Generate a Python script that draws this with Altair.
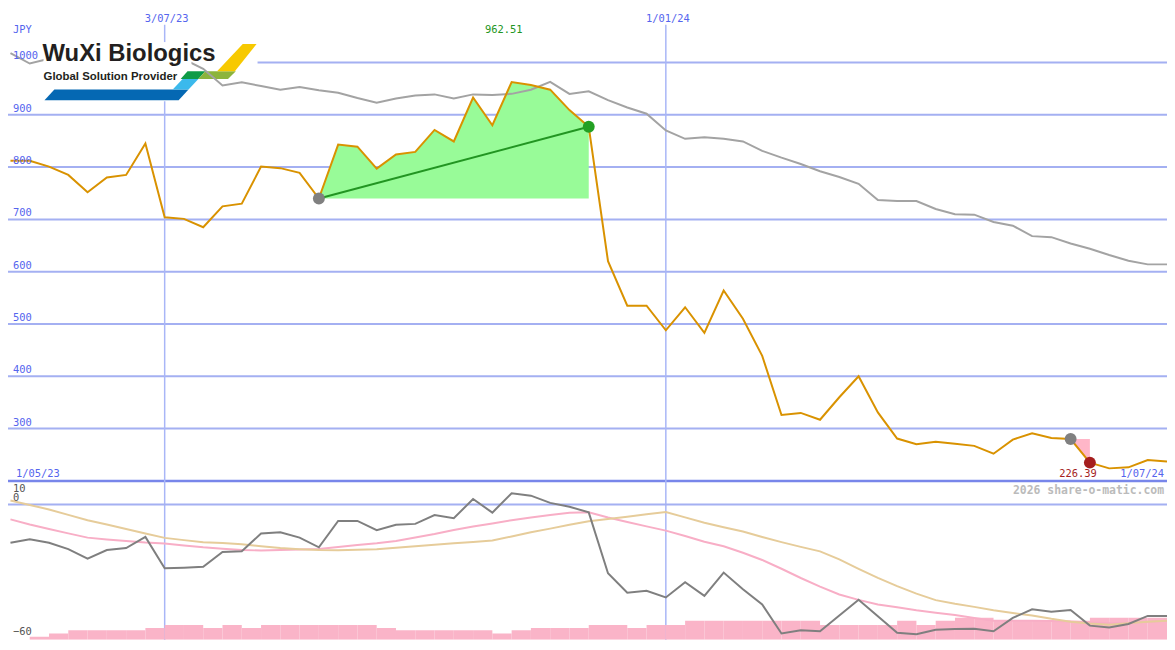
import altair as alt
import pandas as pd

# ---------------- layout helpers (reference is 1175x650) ----------------
W, H = 1167, 634
SX, SY = W / 1175, H / 650


def px(v):
    return round(v * SX, 2)


def py(v):
    return round(v * SY, 2)


# ---------------- data ----------------
week_starts = pd.date_range("2023-05-08", periods=61, freq="7D")
dates = [d.strftime("%Y-%m-%dT00:00:00Z") for d in week_starts]
week_ends = [(d + pd.Timedelta(days=7)).strftime("%Y-%m-%dT00:00:00Z") for d in week_starts]

price = [812, 812, 801, 785, 752, 780, 785, 845, 704, 701,
         685, 725, 730, 801, 798, 789, 740, 843, 839, 797,
         824, 829, 871, 849, 933, 880, 962.5, 957, 948, 909,
         877, 620, 535, 535, 488, 532, 483, 564, 510, 439,
         326, 330, 317, 360, 400, 331, 281, 270, 275, 271,
         267, 252, 279, 291, 282, 280, 235, 224, 226, 240,
         237]

peer = [1018, 998, 1007, 1004, 1006, 1008, 1005, 1005, 1004, 1006,
        988, 956, 962, 955, 948, 953, 947, 942, 932, 923,
        931, 937, 939, 931, 939, 938, 940, 948, 963, 940,
        945, 928, 914, 902, 870, 854, 857, 854, 849, 831,
        818, 806, 792, 781, 768, 737, 735, 735, 720, 710,
        709, 695, 688, 668, 666, 654, 644, 632, 621, 614,
        614]

momentum = [-17, -15.4, -17, -19.8, -24, -20.2, -19.3, -14.4, -28.3, -28,
            -27.6, -21.1, -20.7, -12.9, -12.3, -14.7, -19, -7.3, -7.3, -11.4,
            -9, -8.6, -4.7, -6.1, 2.4, -3.6, 5, 3.9, 0.7, -1,
            -3.5, -30.5, -39.1, -38.3, -41.2, -34.5, -40.5, -30.2, -37.6, -44.3,
            -57.2, -55.8, -56.2, -49.2, -42.2, -49.5, -56.9, -57.5, -55.5, -55.2,
            -55.1, -56.2, -50.3, -46.5, -47.6, -46.8, -53.7, -54.5, -53, -49.4,
            -49.4]

ma_fast = [-6.6, -8.9, -10.9, -12.8, -14.7, -15.5, -16.2, -16.9, -17.3, -18.2,
           -19, -19.6, -20.2, -20.4, -20.2, -20, -19.7, -18.9, -18, -17.2,
           -16.2, -14.6, -13.1, -11.3, -9.8, -8.4, -7, -5.8, -4.7, -3.7,
           -3.5, -5.8, -7.8, -9.7, -11.6, -14, -16.5, -18.5, -21.4, -24.6,
           -28.5, -32.6, -36.4, -39.9, -42.3, -44.3, -45.6, -46.9, -48, -49,
           -50.3, -51.5, -51.5, -51.5, -51.7, -51.9, -52.3, -52.6, -52.4, -52,
           -51.5]

ma_slow = [1.8, -0.2, -2.2, -4.6, -7, -8.9, -10.9, -12.9, -14.8, -15.8,
           -16.7, -17.1, -17.6, -18.5, -19.3, -19.8, -20.2, -20.3, -20.1, -19.8,
           -19.2, -18.5, -17.9, -17.2, -16.6, -16, -14.2, -12.3, -10.7, -9,
           -7.4, -6.4, -5.4, -4.3, -3.3, -5.7, -8.1, -10.1, -12, -14.4,
           -16.7, -18.8, -20.8, -24.3, -28.5, -32.5, -36.2, -39.5, -42.4, -44,
           -45.4, -46.9, -48.1, -49.2, -50.7, -52, -52.8, -53.3, -52.6, -52,
           -51.5]

bar_top = [-60, -58.6, -57.2, -55.8, -55.8, -55.8, -55.8, -54.8, -53.4, -53.4,
           -54.8, -53.4, -54.8, -53.4, -53.4, -53.4, -53.4, -53.4, -53.4, -54.8,
           -55.8, -55.8, -55.8, -55.8, -55.8, -57.2, -55.8, -54.8, -54.8, -54.8,
           -53.4, -53.4, -54.8, -53.4, -53.4, -51.5, -51.5, -51.5, -51.5, -51.5,
           -51.5, -51.5, -53.4, -53.4, -53.4, -53.4, -51.5, -53.4, -51.5, -50.2,
           -50.2, -51.5, -51.5, -51.5, -51.5, -51.5, -50.2, -50.2, -50.2, -50.2,
           -50.2]

price_ticks = [300, 400, 500, 600, 700, 800, 900, 1000]
price_floor = 200
osc_top, osc_zero, osc_floor = 10, 0, -60

marker_dates = ["2023-07-03T00:00:00Z", "2024-01-01T00:00:00Z"]
marker_labels = ["3/07/23", "1/01/24"]
edge_labels = ["1/05/23", "1/07/24"]
currency = "JPY"
credit = "2026 share-o-matic.com"
logo_title = "WuXi Biologics"
logo_sub = "Global Solution Provider"

gain_from, gain_to = 16, 30
loss_from, loss_to = 55, 56
gain_peak_label = "962.51"
loss_label = "226.39"

# ---------------- colours ----------------
GRID = "#a4b0f2"
GRID_DARK = "#7886ea"
VLINE = "#a9b6f7"
LABEL_BLUE = "#5565ee"
MONO = "DejaVu Sans Mono"

# ---------------- scales ----------------
x_dom = [int(pd.Timestamp("2023-05-07 02:30", tz="UTC").value // 10**6),
         int(pd.Timestamp("2024-07-01 00:00", tz="UTC").value // 10**6)]
xs = alt.Scale(domain=x_dom)
ys = alt.Scale(domain=[200, 1100], range=[474, 0], nice=False, zero=False)
ls = alt.Scale(domain=[-60, 10], range=[634, 475], nice=False, zero=False)
X = alt.X("date:T", scale=xs, axis=None)


def YP(field):
    return alt.Y(field, scale=ys, axis=None)


def YL(field):
    return alt.Y(field, scale=ls, axis=None)


main_df = pd.DataFrame({"date": dates, "price": price, "peer": peer})
gain_df = pd.DataFrame({"date": dates[gain_from:gain_to + 1],
                        "price": price[gain_from:gain_to + 1],
                        "base": price[gain_from]})
loss_df = pd.DataFrame({"date": dates[loss_from:loss_to + 1],
                        "price": price[loss_from:loss_to + 1],
                        "base": price[loss_from]})
trend_df = pd.DataFrame({"date": [dates[gain_from], dates[gain_to]],
                         "price": [price[gain_from], price[gain_to]]})
dots_df = pd.DataFrame({
    "date": [dates[gain_from], dates[gain_to], dates[loss_from], dates[loss_to]],
    "price": [price[gain_from], price[gain_to], price[loss_from], price[loss_to]],
    "col": ["#808080", "#23a023", "#808080", "#a51e1e"],
})
peak_i = gain_from + max(range(gain_to - gain_from + 1), key=lambda i: price[gain_from + i])

# ---------------- main panel layers ----------------
grid = alt.Chart(pd.DataFrame({"v": price_ticks})).mark_rule(
    color=GRID, strokeWidth=2).encode(y=YP("v:Q"))
floor_rule = alt.Chart(pd.DataFrame({"v": [price_floor]})).mark_rule(
    color=GRID_DARK, strokeWidth=2.5).encode(y=YP("v:Q"))
vrules = alt.Chart(pd.DataFrame({"date": marker_dates, "label": marker_labels})).mark_rule(
    color=VLINE, strokeWidth=1.5).encode(x=X, y=alt.value(py(15)), y2=alt.value(H))

logo_bg = alt.Chart(pd.DataFrame({"a": [0]})).mark_rect(color="white").encode(
    x=alt.value(0), x2=alt.value(px(253)), y=alt.value(py(33)), y2=alt.value(py(94)))


def poly(points):
    return "M" + " L".join(f"{px(a)},{py(b)}" for a, b in points) + " Z"


logo_parts = [
    ("#0568b3", [(37, 93), (47, 82), (183, 82), (173, 93)]),
    ("#3bb9ec", [(167, 82), (183, 82), (193, 71), (177, 71)]),
    ("#0e9b47", [(175, 71), (182, 63), (200, 63), (193, 71)]),
    ("#8cb43c", [(193, 71), (200, 63), (231, 63), (223, 71)]),
    ("#f7c900", [(212, 63), (238, 35), (252, 35), (230, 63)]),
]
logo_shapes = [
    alt.Chart(pd.DataFrame({"a": [0]})).mark_point(
        shape=poly(pts), size=4, filled=True, color=c, opacity=1, strokeWidth=0
    ).encode(x=alt.value(0), y=alt.value(0))
    for c, pts in logo_parts
]

gain_area = alt.Chart(gain_df).mark_area(color="#98fb98", opacity=1).encode(
    x=X, y=YP("price:Q"), y2="base:Q")
loss_area = alt.Chart(loss_df).mark_area(color="#ffb6c8", opacity=1).encode(
    x=X, y=YP("price:Q"), y2="base:Q")

peer_line = alt.Chart(main_df).mark_line(color="#a3a3a3", strokeWidth=2).encode(
    x=X, y=YP("peer:Q"))
text_bg = alt.Chart(pd.DataFrame({"a": [0]})).mark_rect(color="white").encode(
    x=alt.value(px(36)), x2=alt.value(px(186)), y=alt.value(py(33)), y2=alt.value(py(58)))
price_line = alt.Chart(main_df).mark_line(color="#d99200", strokeWidth=2).encode(
    x=X, y=YP("price:Q"))
trend_line = alt.Chart(trend_df).mark_line(color="#229522", strokeWidth=2).encode(
    x=X, y=YP("price:Q"))
dots = alt.Chart(dots_df).mark_point(filled=True, size=144, opacity=1, strokeWidth=0).encode(
    x=X, y=YP("price:Q"), color=alt.Color("col:N", scale=None))

logo_title_t = alt.Chart(pd.DataFrame({"t": [logo_title]})).mark_text(
    align="left", baseline="alphabetic", font="Liberation Sans", fontWeight="bold",
    fontSize=24, color="#231f20").encode(x=alt.value(px(35)), y=alt.value(py(52)), text="t:N")
logo_sub_t = alt.Chart(pd.DataFrame({"t": [logo_sub]})).mark_text(
    align="left", baseline="alphabetic", font="Liberation Sans", fontWeight="bold",
    fontSize=11.5, color="#231f20").encode(x=alt.value(px(36)), y=alt.value(py(72)), text="t:N")

tick_labels = alt.Chart(pd.DataFrame({"v": price_ticks})).mark_text(
    align="left", baseline="bottom", dy=-1, font=MONO, fontSize=10.5, color=LABEL_BLUE
).encode(x=alt.value(px(5)), y=YP("v:Q"), text="v:Q")
cur_label = alt.Chart(pd.DataFrame({"t": [currency]})).mark_text(
    align="left", baseline="middle", font=MONO, fontSize=10.5, color=LABEL_BLUE
).encode(x=alt.value(px(5)), y=alt.value(py(20)), text="t:N")
top_dates = alt.Chart(pd.DataFrame({"date": marker_dates, "label": marker_labels})).mark_text(
    align="center", baseline="middle", dx=2, font=MONO, fontSize=10.5, color=LABEL_BLUE
).encode(x=X, y=alt.value(py(9)), text="label:N")
left_date = alt.Chart(pd.DataFrame({"t": [edge_labels[0]]})).mark_text(
    align="left", baseline="middle", font=MONO, fontSize=10.5, color=LABEL_BLUE
).encode(x=alt.value(px(8)), y=alt.value(py(479)), text="t:N")
right_date = alt.Chart(pd.DataFrame({"t": [edge_labels[1]]})).mark_text(
    align="right", baseline="middle", font=MONO, fontSize=10.5, color=LABEL_BLUE
).encode(x=alt.value(px(1172)), y=alt.value(py(479)), text="t:N")
peak_text = alt.Chart(pd.DataFrame({"date": [dates[peak_i]], "t": [gain_peak_label]})).mark_text(
    align="center", baseline="middle", dx=-8, font=MONO, fontSize=10.5, color="#229522"
).encode(x=X, y=alt.value(py(21)), text="t:N")
loss_text = alt.Chart(pd.DataFrame({"date": [dates[loss_to]], "t": [loss_label]})).mark_text(
    align="center", baseline="middle", dx=-12, font=MONO, fontSize=10.5, color="#a51e1e"
).encode(x=X, y=alt.value(py(479)), text="t:N")

main = alt.layer(grid, floor_rule, vrules, logo_bg, *logo_shapes, gain_area, loss_area,
                 peer_line, text_bg, price_line, trend_line, dots, logo_title_t, logo_sub_t,
                 tick_labels, cur_label, top_dates, left_date, right_date, peak_text, loss_text)

# ---------------- lower panel layers ----------------
low_df = pd.DataFrame({"date": dates, "end": week_ends, "mom": momentum,
                       "fast": ma_fast, "slow": ma_slow, "bar": bar_top,
                       "floor": osc_floor})

zero_rule = alt.Chart(pd.DataFrame({"v": [osc_zero]})).mark_rule(
    color=GRID, strokeWidth=2).encode(y=YL("v:Q"))
bars = alt.Chart(low_df).mark_rect(color="#fab4c8", clip=True).encode(
    x=X, x2="end:T", y=YL("bar:Q"), y2="floor:Q")
fast_line = alt.Chart(low_df).mark_line(color="#f8aec6", strokeWidth=2).encode(
    x=X, y=YL("fast:Q"))
slow_line = alt.Chart(low_df).mark_line(color="#e6cc9a", strokeWidth=2).encode(
    x=X, y=YL("slow:Q"))
mom_line = alt.Chart(low_df).mark_line(color="#7f7f7f", strokeWidth=2).encode(
    x=X, y=YL("mom:Q"))

top_lab = alt.Chart(pd.DataFrame({"v": [osc_top]})).mark_text(
    align="left", baseline="top", dy=2, font=MONO, fontSize=10.5, color="#555555"
).encode(x=alt.value(px(5)), y=YL("v:Q"), text="v:Q")
zero_lab = alt.Chart(pd.DataFrame({"v": [osc_zero]})).mark_text(
    align="left", baseline="bottom", dy=-1, font=MONO, fontSize=10.5, color="#555555"
).encode(x=alt.value(px(5)), y=YL("v:Q"), text="v:Q")
floor_lab = alt.Chart(pd.DataFrame({"v": [osc_floor]})).mark_text(
    align="left", baseline="bottom", dy=-3, font=MONO, fontSize=10.5, color="#555555"
).encode(x=alt.value(px(5)), y=YL("v:Q"), text="v:Q")
credit_t = alt.Chart(pd.DataFrame({"t": [credit]})).mark_text(
    align="right", baseline="middle", font=MONO, fontWeight="bold", fontSize=11.5,
    color="#bbbbbb").encode(x=alt.value(px(1172)), y=alt.value(py(496)), text="t:N")

lower = alt.layer(zero_rule, bars, fast_line, slow_line, mom_line,
                  top_lab, zero_lab, floor_lab, credit_t)

chart = alt.layer(main, lower).resolve_scale(y="independent").properties(
    width=W, height=H, padding=0,
    autosize=alt.AutoSizeParams(type="none"),
    background="white",
).configure_view(stroke=None)

chart.save("out.html", embed_options={"renderer": "svg", "actions": False})
